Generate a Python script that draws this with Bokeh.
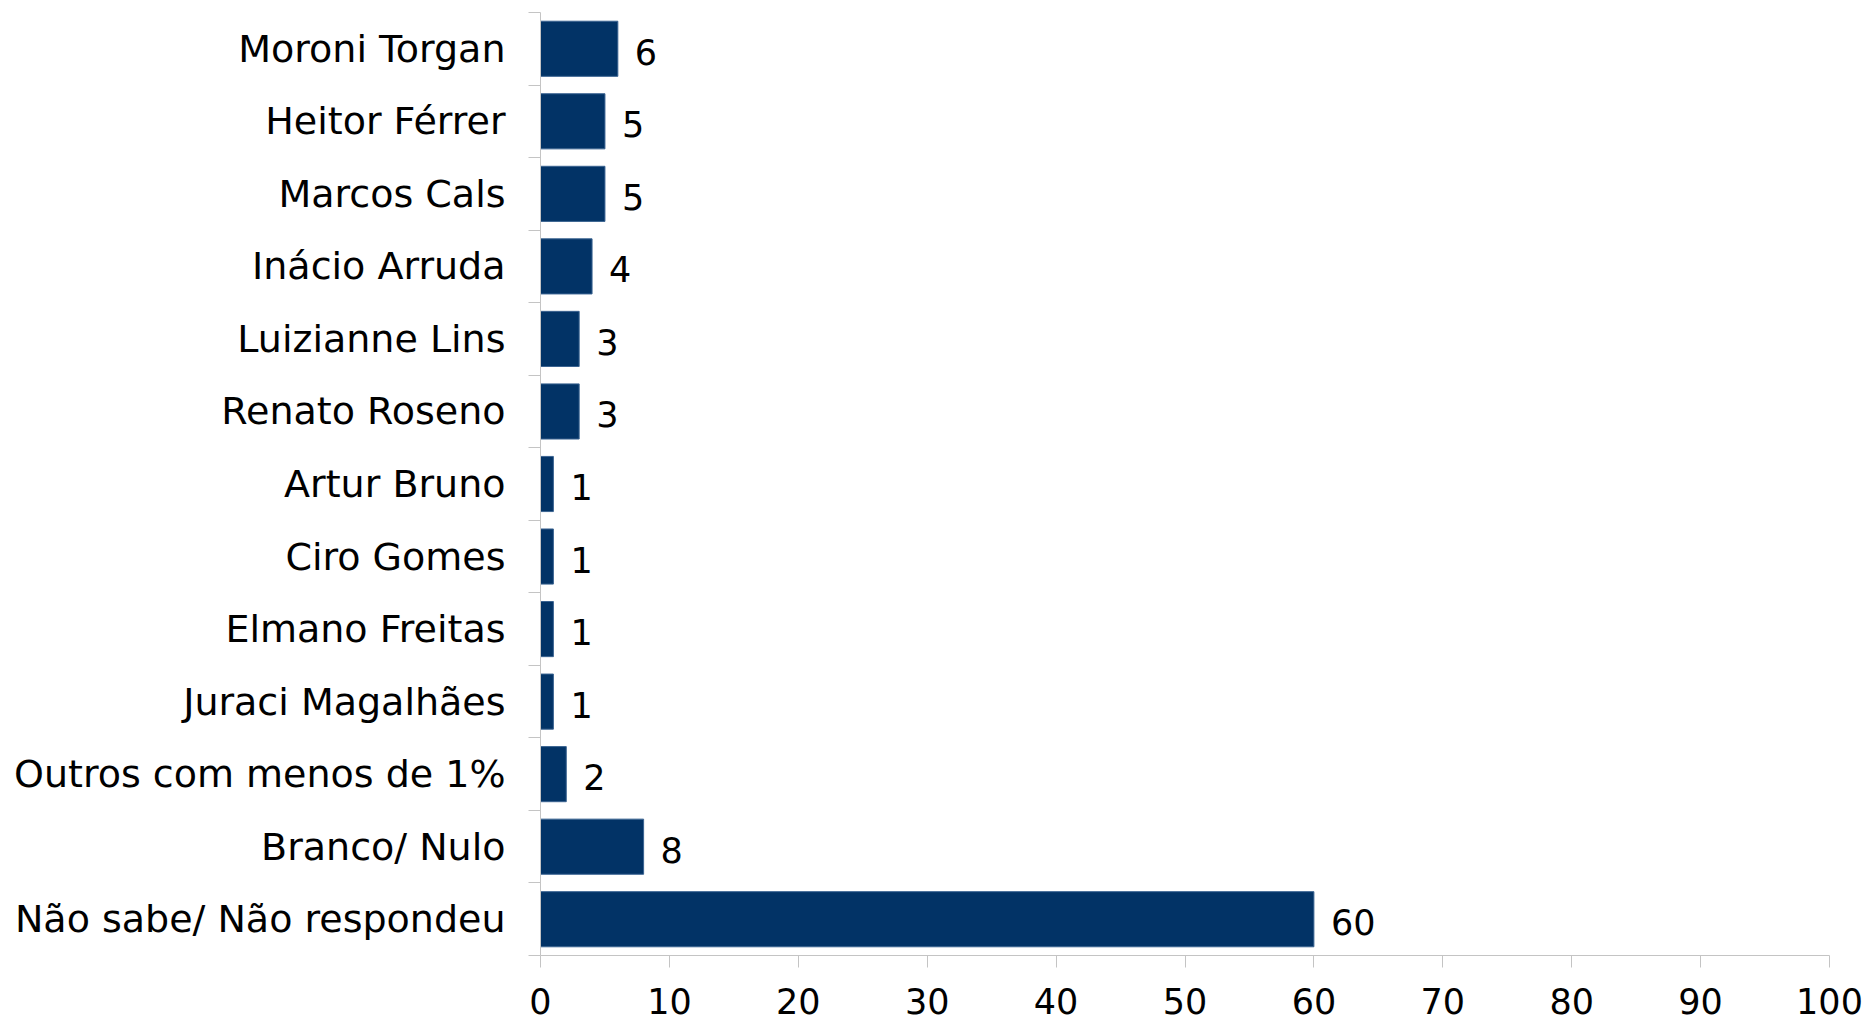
from bokeh.plotting import figure
from bokeh.models import ColumnDataSource, FixedTicker, Range1d
from bokeh.core.properties import value
from bokeh.embed import file_html
from bokeh.resources import INLINE

categories = ["Moroni Torgan", "Heitor Férrer", "Marcos Cals", "Inácio Arruda",
              "Luizianne Lins", "Renato Roseno", "Artur Bruno", "Ciro Gomes",
              "Elmano Freitas", "Juraci Magalhães", "Outros com menos de 1%",
              "Branco/ Nulo", "Não sabe/ Não respondeu"]
values = [6, 5, 5, 4, 3, 3, 1, 1, 1, 1, 2, 8, 60]
x_ticks = [0, 10, 20, 30, 40, 50, 60, 70, 80, 90, 100]

n = len(categories)
ypos = [n - 1 - i for i in range(n)]
src = ColumnDataSource(dict(cat=categories, val=values, y=ypos,
                            lab=[str(v) for v in values]))

FONT = "DejaVu Sans"
GRAY = "#c4c4c4"

p = figure(width=1868, height=1022, output_backend="svg", toolbar_location=None,
           x_range=Range1d(0, 100), y_range=Range1d(-0.5, n - 0.5),
           min_border_left=540, min_border_right=39, min_border_top=12,
           min_border_bottom=67)
p.outline_line_color = None
p.xgrid.grid_line_color = None
p.ygrid.grid_line_color = None

p.hbar(y="y", right="val", left=0, height=0.76, source=src,
       fill_color="#023366", line_color="#3a6391", line_width=1)

p.text(x="val", y="y", text="lab", source=src, x_offset=17, y_offset=3,
       text_baseline="middle", text_align="left", text_color="#000000",
       text_font=value(FONT), text_font_size="35px")

# x axis
xa = p.xaxis[0]
xa.ticker = FixedTicker(ticks=x_ticks)
xa.axis_line_color = GRAY
xa.major_tick_line_color = GRAY
xa.major_tick_in = 0
xa.major_tick_out = 12
xa.minor_tick_line_color = None
xa.major_label_text_font = FONT
xa.major_label_text_font_size = "35px"
xa.major_label_text_color = "#000000"
xa.major_label_text_line_height = 0.9
xa.major_label_standoff = 20

# y axis
ya = p.yaxis[0]
ya.ticker = FixedTicker(ticks=ypos, minor_ticks=[k - 0.5 for k in range(n + 1)])
ya.major_label_overrides = {y: c for y, c in zip(ypos, categories)}
ya.axis_line_color = GRAY
ya.major_tick_line_color = None
ya.major_tick_in = 0
ya.major_tick_out = 12
ya.minor_tick_line_color = GRAY
ya.minor_tick_in = 0
ya.minor_tick_out = 12
ya.major_label_text_font = FONT
ya.major_label_text_font_size = "38px"
ya.major_label_text_color = "#000000"
ya.major_label_standoff = 23

open("out.html", "w").write(file_html(p, INLINE))
